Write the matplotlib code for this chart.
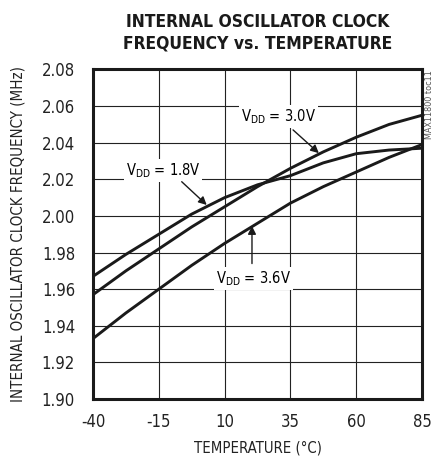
import numpy as np
import matplotlib.pyplot as plt

plt.rcParams['font.family'] = ['DejaVu Sans']
plt.rcParams['font.stretch'] = 'condensed'
plt.rcParams['axes.unicode_minus'] = False
plt.rcParams['mathtext.fontset'] = 'custom'

temp = [-40, -27.5, -15, -2.5, 10, 22.5, 35, 47.5, 60, 72.5, 85]
f_18 = [1.967, 1.979, 1.990, 2.001, 2.010, 2.017, 2.022, 2.029, 2.034, 2.036, 2.037]
f_30 = [1.957, 1.970, 1.982, 1.994, 2.005, 2.016, 2.026, 2.035, 2.043, 2.050, 2.055]
f_36 = [1.933, 1.947, 1.960, 1.973, 1.985, 1.996, 2.007, 2.016, 2.024, 2.032, 2.039]

xticks = [-40, -15, 10, 35, 60, 85]
yticks = [1.90, 1.92, 1.94, 1.96, 1.98, 2.00, 2.02, 2.04, 2.06, 2.08]

fig = plt.figure(figsize=(4.42, 4.59), dpi=100)
ax = fig.add_axes([0.2104, 0.1307, 0.7444, 0.7179])

for f in (f_18, f_30, f_36):
    ax.plot(temp, f, color='#1a1a1a', lw=2.1, zorder=3)

ax.set_xlim(-40, 85)
ax.set_ylim(1.90, 2.08)
ax.set_xticks(xticks)
ax.set_yticks(yticks)
ax.set_yticklabels([f"{v:.2f}" for v in yticks])
ax.grid(True, color='#222222', lw=0.8)
ax.tick_params(length=0, labelsize=12, colors='#222222')
ax.tick_params(axis='y', pad=13)
ax.tick_params(axis='x', pad=10)
for s in ax.spines.values():
    s.set_linewidth(2.2)
    s.set_color('#1a1a1a')
    s.set_zorder(4)

ax.set_xlabel('TEMPERATURE (°C)', fontsize=10.7, color='#222222', labelpad=7)
ax.set_ylabel('INTERNAL OSCILLATOR CLOCK FREQUENCY (MHz)', fontsize=10.8,
              color='#222222', labelpad=12)

fig.text(0.583, 0.929, 'INTERNAL OSCILLATOR CLOCK\nFREQUENCY vs. TEMPERATURE',
         ha='center', va='center', fontsize=12.5, fontweight='heavy',
         linespacing=1.25, color='#1a1a1a')

fig.text(0.972, 0.848, 'MAX11800 toc11', rotation=90, ha='center', va='top',
         fontsize=6.5, color='#555555')

box = dict(facecolor='white', edgecolor='none', pad=1.5)
arrow = dict(arrowstyle='-|>', color='#1a1a1a', lw=1.0, mutation_scale=12,
             shrinkA=0, shrinkB=0)


def label(x, y, s):
    ax.text(x, y, '$\\mathregular{V_{DD}}$ = ' + s, ha='center', va='center',
            fontsize=10.5, bbox=box, zorder=5)


label(30.4, 2.0545, '3.0V')
ax.annotate('', xy=(45.8, 2.0343), xytext=(36, 2.047), arrowprops=arrow, zorder=5)

label(-13.4, 2.025, '1.8V')
ax.annotate('', xy=(3.2, 2.006), xytext=(-6.3, 2.0187), arrowprops=arrow, zorder=5)

label(21, 1.966, '3.6V')
ax.annotate('', xy=(20.4, 1.9945), xytext=(20.4, 1.974), arrowprops=arrow, zorder=5)

fig.savefig('out.png', dpi=100)
